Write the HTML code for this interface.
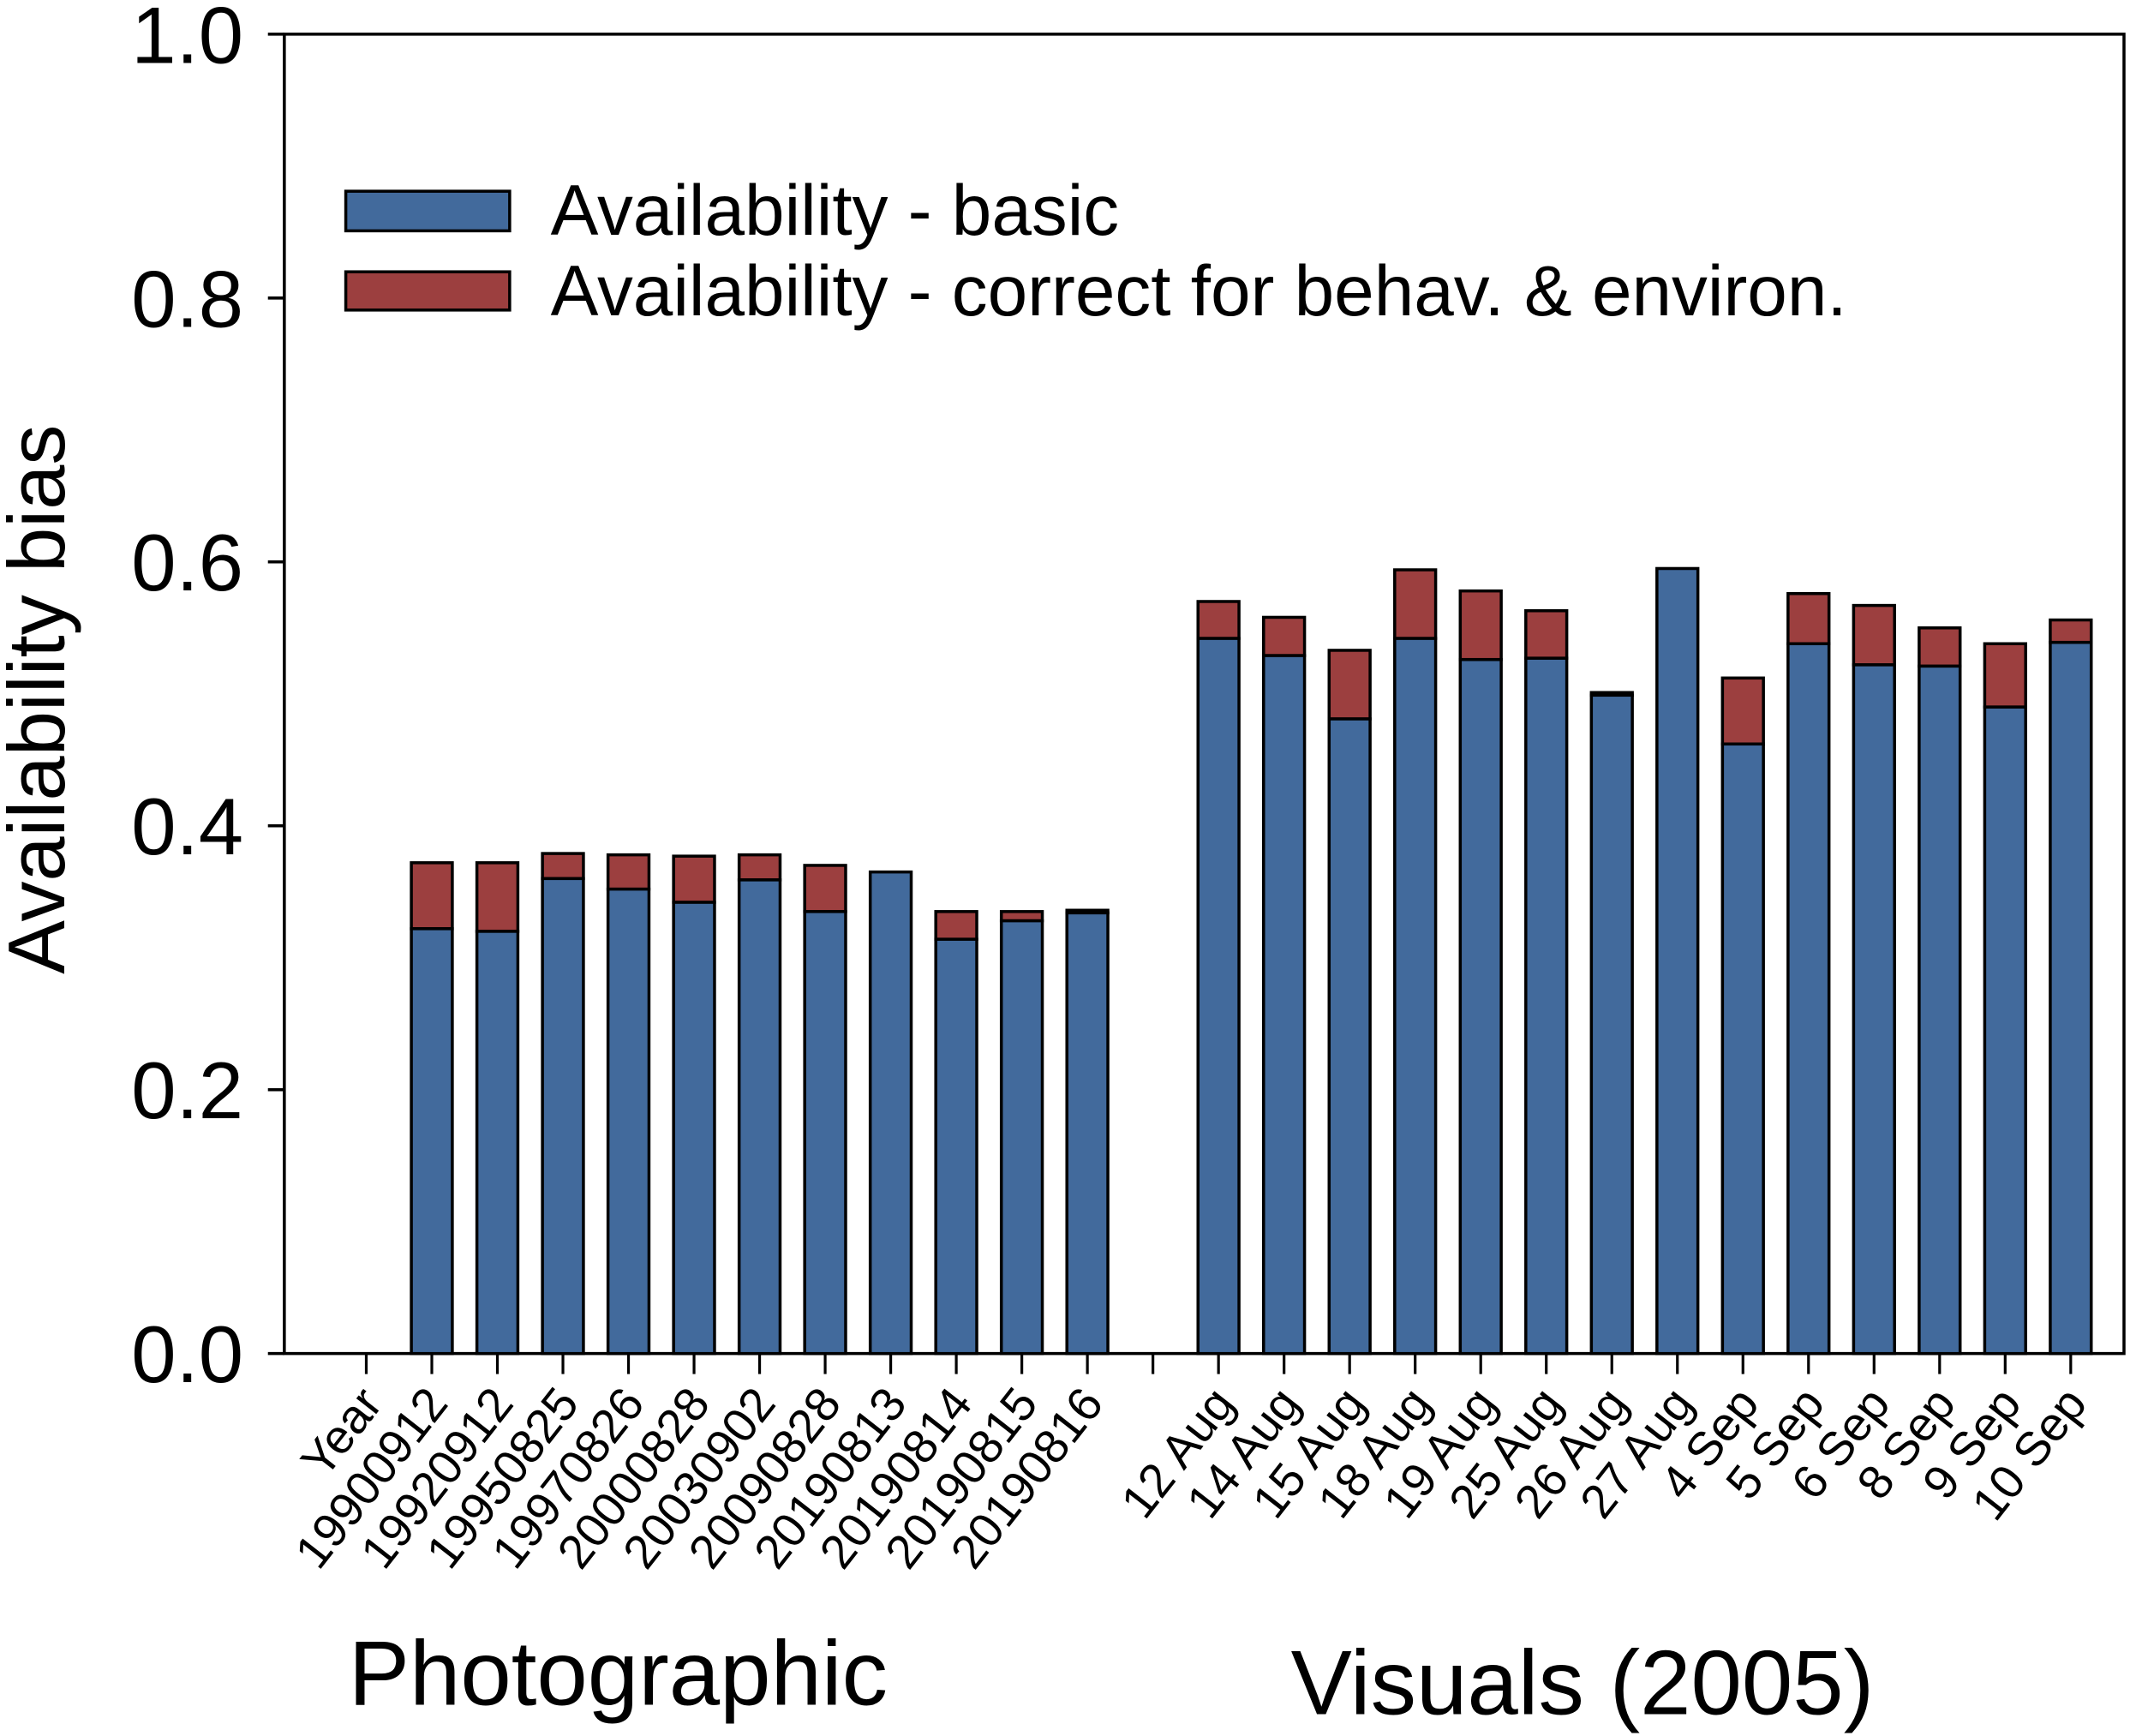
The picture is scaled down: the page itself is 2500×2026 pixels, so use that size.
<!DOCTYPE html>
<html><head><meta charset="utf-8"><style>
html,body{margin:0;padding:0;background:#fff;}
svg{display:block;font-family:"Liberation Sans",Arial,sans-serif;}
</style></head><body>
<svg id="chart" width="2500" height="2026" viewBox="0 0 1568 1271" xmlns="http://www.w3.org/2000/svg">
<g id="axes"></g>
<g id="bars"></g>
<g id="xlabels"></g>
<g>
<rect x="253" y="140" width="120" height="29" fill="#426a9c" stroke="#000" stroke-width="2.2"/>
<text x="403" y="172" font-size="52.5">Availability - basic</text>
<rect x="253" y="199" width="120" height="28" fill="#9c3f3f" stroke="#000" stroke-width="2.2"/>
<text x="403" y="231" font-size="52.5">Availability - correct for behav. &amp; environ.</text>
</g>
<text transform="translate(47,512) rotate(-90)" text-anchor="middle" font-size="59">Availability bias</text>
<text x="255" y="1248" font-size="67">Photographic</text>
<text x="945" y="1255" font-size="67">Visuals (2005)</text>
</svg>
<script>
const categories = ["Year","19900912","19920912","19950825","19970826","20000828","20030902","20090828","20190813","20190814","20190815","20190816","","12 Aug","14 Aug","15 Aug","18 Aug","19 Aug","25 Aug","26 Aug","27 Aug","4 Sep","5 Sep","6 Sep","8 Sep","9 Sep","10 Sep"];
const basicValues = [null,0.322,0.320,0.360,0.352,0.342,0.359,0.335,0.365,0.314,0.328,0.334,null,0.542,0.529,0.481,0.542,0.526,0.527,0.499,0.595,0.462,0.538,0.522,0.521,0.490,0.539];
const totalValues = [null,0.372,0.372,0.379,0.378,0.377,0.378,0.370,0.365,0.335,0.335,0.336,null,0.570,0.558,0.533,0.594,0.578,0.563,0.501,0.595,0.512,0.576,0.567,0.550,0.538,0.556];
const yTicks = [0,0.2,0.4,0.6,0.8,1.0];
const yTickLabels = ["0.0","0.2","0.4","0.6","0.8","1.0"];

const NS="http://www.w3.org/2000/svg";
const X0=208,X1=1555,Y0=991,Y1=25;
function yScale(v){return Y0-(Y0-Y1)*v;}
function xScale(i){return 268+48.0*i;}
function mk(tag,attrs,parent){const e=document.createElementNS(NS,tag);for(const k in attrs)e.setAttribute(k,attrs[k]);parent.appendChild(e);return e;}
const axes=document.getElementById('axes'),bars=document.getElementById('bars'),xl=document.getElementById('xlabels');
const bw=30;
categories.forEach((c,i)=>{
  const b=basicValues[i],t=totalValues[i];
  if(b==null)return;
  const x=xScale(i)-bw/2;
  if(t>b){
    const r=mk('rect',{x:x,y:yScale(t),width:bw,height:yScale(b)-yScale(t),fill:'#9c3f3f',stroke:'#000','stroke-width':2.2},bars);
    
    
  }
  const r2=mk('rect',{x:x,y:yScale(b),width:bw,height:Y0-yScale(b),fill:'#426a9c',stroke:'#000','stroke-width':2.2},bars);
  
  
});
const frame=mk('path',{d:`M${X0},${Y1}H${X1}V${Y0}H${X0}Z`,fill:'none',stroke:'#000','stroke-width':2.2},axes);


yTicks.forEach((v,k)=>{
  const y=yScale(v);
  const tl=mk('line',{x1:X0-12,x2:X0,y1:y,y2:y,stroke:'#000','stroke-width':2.2},axes);
  
  
  const tx=mk('text',{x:X0-30,y:y+21,'text-anchor':'end','font-size':59},axes);
  tx.textContent=yTickLabels[k];
  
  
});
categories.forEach((c,i)=>{
  const x=xScale(i);
  const tl=mk('line',{x1:x,x2:x,y1:Y0,y2:Y0+15,stroke:'#000','stroke-width':2},axes);
  
  
  if(!c)return;
  const tx=mk('text',{transform:`translate(${x+13},${Y0+37}) rotate(-52)`,'text-anchor':'end','font-size':35},xl);
  tx.textContent=c;
  
  
});
</script>
</body></html>
